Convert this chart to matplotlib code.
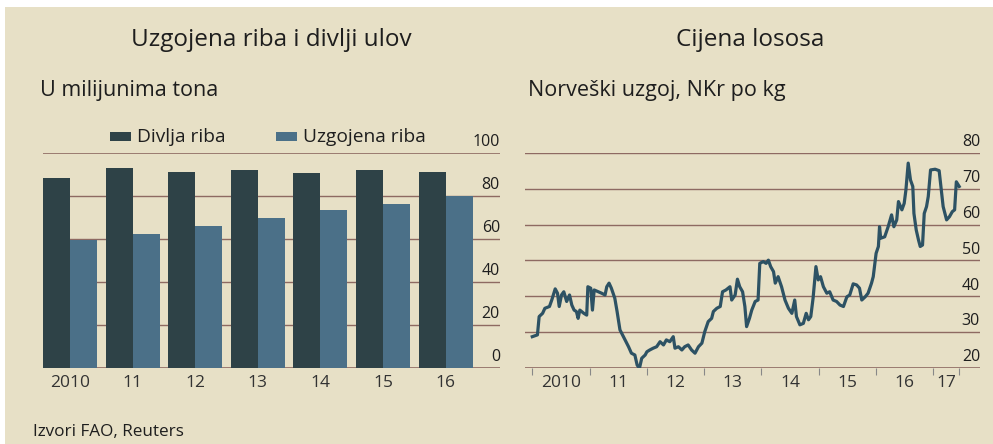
import matplotlib.pyplot as plt
from matplotlib.patches import Rectangle
import matplotlib.transforms as mtransforms

# left panel: catch vs farmed fish, million tonnes
years = ["2010", "11", "12", "13", "14", "15", "16"]
wild_catch = [88.4, 92.9, 91.0, 92.1, 90.8, 92.1, 91.3]
farmed = [59.5, 62.2, 66.0, 69.9, 73.5, 76.3, 79.8]
series_names = ["Divlja riba", "Uzgojena riba"]

# right panel: Norwegian salmon price, NKr per kg (decimal year, price)
price_dates = [
    2010.00, 2010.09, 2010.12, 2010.18, 2010.22, 2010.30, 2010.34, 2010.40,
    2010.44, 2010.47, 2010.51, 2010.55, 2010.60, 2010.65, 2010.69, 2010.73,
    2010.77, 2010.80, 2010.83, 2010.90, 2010.95, 2010.97, 2011.02, 2011.05,
    2011.08, 2011.15, 2011.21, 2011.27, 2011.30, 2011.34, 2011.38, 2011.44,
    2011.48, 2011.53, 2011.59, 2011.68, 2011.73, 2011.79, 2011.83, 2011.87,
    2011.91, 2011.97, 2012.00, 2012.05, 2012.11, 2012.17, 2012.23, 2012.29,
    2012.34, 2012.40, 2012.46, 2012.49, 2012.55, 2012.61, 2012.66, 2012.72,
    2012.78, 2012.84, 2012.90, 2012.96, 2013.01, 2013.07, 2013.13, 2013.16,
    2013.22, 2013.28, 2013.32, 2013.38, 2013.45, 2013.48, 2013.54, 2013.58,
    2013.62, 2013.67, 2013.71, 2013.74, 2013.79, 2013.83, 2013.89, 2013.94,
    2013.97, 2014.03, 2014.08, 2014.12, 2014.16, 2014.21, 2014.24, 2014.29,
    2014.35, 2014.41, 2014.47, 2014.53, 2014.58, 2014.61, 2014.67, 2014.73,
    2014.78, 2014.82, 2014.86, 2014.90, 2014.95, 2014.99, 2015.03, 2015.08,
    2015.14, 2015.19, 2015.25, 2015.31, 2015.37, 2015.43, 2015.49, 2015.54,
    2015.60, 2015.66, 2015.71, 2015.75, 2015.81, 2015.86, 2015.92, 2015.95,
    2016.00, 2016.04, 2016.06, 2016.08, 2016.15, 2016.21, 2016.27, 2016.31,
    2016.36, 2016.39, 2016.45, 2016.49, 2016.52, 2016.56, 2016.60, 2016.64,
    2016.66, 2016.70, 2016.74, 2016.77, 2016.81, 2016.84, 2016.88, 2016.91,
    2016.95, 2017.03, 2017.10, 2017.13, 2017.17, 2017.23, 2017.28, 2017.33,
    2017.37, 2017.40, 2017.45,
]
price_values = [
    28.8, 29.3, 34.4, 35.3, 36.7, 37.2, 39.0, 42.1,
    40.9, 37.2, 40.4, 41.3, 38.6, 40.4, 37.6, 36.2,
    35.8, 33.9, 36.2, 35.3, 34.8, 42.7, 42.3, 36.2,
    41.8, 41.3, 40.9, 40.4, 42.7, 43.7, 42.3, 39.5,
    35.8, 30.7, 28.8, 26.0, 24.2, 23.7, 20.9, 20.0,
    22.8, 23.7, 24.6, 25.1, 25.6, 26.0, 27.4, 26.5,
    27.9, 27.4, 28.8, 25.6, 26.0, 25.1, 26.0, 26.5,
    25.1, 24.2, 26.0, 27.0, 30.2, 33.0, 33.9, 35.8,
    36.7, 37.2, 41.3, 41.8, 42.7, 39.0, 40.4, 44.8,
    42.7, 41.3, 37.2, 31.6, 33.9, 36.2, 38.6, 39.0,
    49.2, 49.7, 49.2, 50.1, 48.3, 46.9, 43.7, 45.5,
    42.7, 39.0, 36.7, 35.3, 39.0, 34.4, 32.1, 32.5,
    35.3, 33.5, 34.4, 39.5, 48.3, 44.6, 45.5, 42.7,
    40.9, 41.3, 39.0, 38.6, 37.6, 37.2, 39.9, 40.4,
    43.5, 43.2, 42.3, 39.0, 39.9, 40.9, 43.7, 45.5,
    52.0, 53.9, 59.4, 56.2, 56.6, 59.4, 62.7, 59.4,
    61.3, 66.4, 64.1, 65.9, 69.6, 77.1, 72.4, 70.6,
    63.1, 58.5, 55.7, 53.9, 54.3, 63.1, 65.0, 67.8,
    75.2, 75.4, 75.0, 70.6, 65.0, 61.3, 62.2, 63.6,
    64.1, 71.9, 70.6,
]
price_year_ticks = [2010, 2011, 2012, 2013, 2014, 2015, 2016, 2017, 2017.45]
price_year_labels = ["2010", "11", "12", "13", "14", "15", "16", "17"]

BG = "#e7e0c6"
GRID = "#8e6a62"
TEXT = "#1e1e1e"
TICK = "#333333"
DARK = "#2e4247"
LIGHT = "#4b7088"
LINE = "#2d5264"

plt.rcParams["font.family"] = ["Open Sans", "DejaVu Sans"]

fig = plt.figure(figsize=(9.93, 4.44), dpi=100)
fig.patch.set_facecolor("white")
fig.patches.append(Rectangle((5 / 993, 0), 1, 437 / 444, transform=fig.transFigure,
                             facecolor=BG, edgecolor="none", zorder=-10))


def style_axes(ax):
    ax.set_facecolor("none")
    for s in ax.spines.values():
        s.set_visible(False)
    ax.tick_params(left=False, right=False, labelleft=False, labelright=False)


# ---- left: bars
ax1 = fig.add_axes([43 / 993, 76 / 444, 457 / 993, 215 / 444])
style_axes(ax1)
idx = list(range(len(years)))
w = 0.431
ax1.bar([i - w / 2 for i in idx], wild_catch, width=w, color=DARK, zorder=3)
ax1.bar([i + w / 2 for i in idx], farmed, width=w, color=LIGHT, zorder=3)
ax1.set_xlim(-0.431, 6.869)
ax1.set_ylim(0, 100)
yt = [0, 20, 40, 60, 80, 100]
for v in yt:
    ax1.axhline(v, color=GRID, lw=1.2 if v in (0, 100) else 1.0, zorder=1)
tr = mtransforms.blended_transform_factory(ax1.transAxes, ax1.transData)
for v in yt:
    ax1.text(1.0, v + 1.5, str(v), transform=tr, ha="right", va="bottom",
             fontsize=11.5, color=TEXT)
ax1.set_xticks(idx)
ax1.set_xticklabels(years, fontsize=12.5, color=TICK)
ax1.tick_params(axis="x", length=0, pad=5)

# legend drawn by hand to match spacing
for x0, name, col in [(110, series_names[0], DARK), (276, series_names[1], LIGHT)]:
    fig.patches.append(Rectangle((x0 / 993, 1 - 141 / 444), 21 / 993, 9 / 444,
                                 transform=fig.transFigure, facecolor=col,
                                 edgecolor="none"))
    fig.text((x0 + 27) / 993, 1 - 137 / 444, name, ha="left", va="center",
             fontsize=13.8, color=TEXT)

# ---- right: salmon price line
ax2 = fig.add_axes([525 / 993, 75.7 / 444, 455 / 993, 215.6 / 444])
style_axes(ax2)
ax2.plot(price_dates, price_values, color=LINE, lw=2.3, zorder=3,
         solid_joinstyle="round")
ax2.set_xlim(2009.873, 2017.813)
ax2.set_ylim(20, 80)
yt2 = [20, 30, 40, 50, 60, 70, 80]
for v in yt2:
    ax2.axhline(v, color=GRID, lw=1.2 if v == 20 else 1.0, zorder=1)
tr2 = mtransforms.blended_transform_factory(ax2.transAxes, ax2.transData)
for v in yt2:
    ax2.text(1.0, v + 0.8, str(v), transform=tr2, ha="right", va="bottom",
             fontsize=11.5, color=TEXT)
ax2.set_xticks(price_year_ticks)
ax2.set_xticklabels([""] * len(price_year_ticks))
ax2.tick_params(axis="x", which="major", length=5, width=0.8, color="#888888",
                direction="out")
label_pos = [y + 0.5 for y in price_year_ticks[:7]]
label_pos.append((price_year_ticks[7] + price_year_ticks[8]) / 2)
ax2.set_xticks(label_pos, minor=True)
ax2.set_xticklabels(price_year_labels, minor=True, fontsize=12.5, color=TICK)
ax2.tick_params(axis="x", which="minor", length=0, pad=5)

# ---- titles and notes
fig.text(271 / 993, 1 - 40 / 444, "Uzgojena riba i divlji ulov", ha="center",
         va="center", fontsize=17.5, color=TEXT)
fig.text(750 / 993, 1 - 40 / 444, "Cijena lososa", ha="center", va="center",
         fontsize=17.5, color=TEXT)
fig.text(40 / 993, 1 - 90 / 444, "U milijunima tona", ha="left", va="center",
         fontsize=15.5, color=TEXT)
fig.text(528 / 993, 1 - 90 / 444, "Norveški uzgoj, NKr po kg", ha="left",
         va="center", fontsize=15.5, color=TEXT)
fig.text(33 / 993, 1 - 432 / 444, "Izvori FAO, Reuters", ha="left", va="center",
         fontsize=12.3, color=TEXT)

fig.savefig("out.png", dpi=100, facecolor=fig.get_facecolor())
